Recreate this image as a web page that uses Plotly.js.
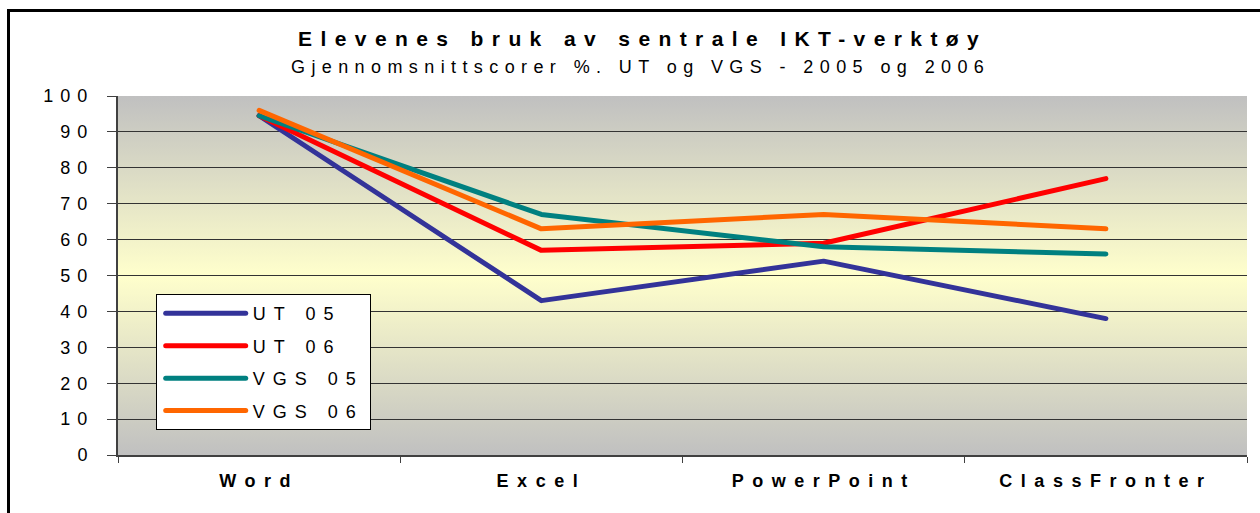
<!DOCTYPE html>
<html>
<head>
<meta charset="utf-8">
<script src="https://cdn.plot.ly/plotly-3.0.1.min.js"></script>
<style>
  body { margin: 0; background: #fff; }
  #chart { position: absolute; left: 0; top: 0; width: 1260px; height: 513px; }
  #frame { position: absolute; left: 7px; top: 9px; width: 1300px; height: 600px;
           border-left: 3px solid #000; border-top: 3px solid #000; pointer-events: none; z-index: 5; }
  .gtitle { letter-spacing: 8.4px; }
  .xtick text { letter-spacing: 8.5px; }
  .ytick text { letter-spacing: 7px; }
  .legendtext { letter-spacing: 8px; }
  .scatterlayer .js-line, .legend .js-line { stroke-linecap: round !important; stroke-linejoin: round !important; }
</style>
</head>
<body>
<div id="chart"></div>
<div id="frame"></div>
<script>
// ---- data ----
const categories = ['Word', 'Excel', 'PowerPoint', 'ClassFronter'];
const seriesNames = ['UT 05', 'UT 06', 'VGS 05', 'VGS 06'];
const ut05 = [94.5, 43, 54, 38];
const ut06 = [94.5, 57, 59, 77];
const vgs05 = [94.5, 67, 58, 56];
const vgs06 = [96, 63, 67, 63];
const seriesValues = [ut05, ut06, vgs05, vgs06];
const seriesColors = ['#333399', '#FF0000', '#008080', '#FF6600'];
const titleText = 'Elevenes bruk av sentrale IKT-verktøy';
const subtitleText = 'Gjennomsnittscorer %. UT og VGS - 2005 og 2006';

const FONT = 'Liberation Sans, Arial, sans-serif';

const traces = seriesNames.map((name, i) => ({
  type: 'scatter',
  mode: 'lines',
  name: name,
  legendgroup: name,
  x: categories,
  y: seriesValues[i],
  line: { color: seriesColors[i], width: 5 },
  hoverinfo: 'skip'
}));

const gradSvg = '<svg xmlns="http://www.w3.org/2000/svg" width="100" height="100" preserveAspectRatio="none">' +
  '<defs><linearGradient id="g" x1="0" y1="0" x2="0" y2="1">' +
  '<stop offset="0" stop-color="#c0c0c0"/>' +
  '<stop offset="0.5" stop-color="#ffffcc"/>' +
  '<stop offset="1" stop-color="#c0c0c0"/>' +
  '</linearGradient></defs><rect width="100" height="100" fill="url(#g)"/></svg>';

const layout = {
  width: 1260,
  height: 513,
  margin: { l: 118, r: 13, t: 96, b: 58 },
  paper_bgcolor: '#ffffff',
  plot_bgcolor: 'rgba(0,0,0,0)',
  font: { family: FONT, color: '#000' },
  title: {
    text: '<b>' + titleText + '</b>',
    font: { family: FONT, size: 21, color: '#000' },
    x: 0.51, xanchor: 'center', xref: 'container',
    y: 0.924, yanchor: 'middle', yref: 'container'
  },
  annotations: [{
    text: '<span style="letter-spacing:6.4px">' + subtitleText + '</span>',
    xref: 'paper', yref: 'paper',
    x: 0.4625, y: 1.0808, xanchor: 'center', yanchor: 'middle',
    showarrow: false,
    font: { family: FONT, size: 18, color: '#000' }
  }],
  images: [{
    source: 'data:image/svg+xml;charset=utf-8,' + encodeURIComponent(gradSvg),
    xref: 'paper', yref: 'paper', x: 0, y: 1, sizex: 1, sizey: 1,
    xanchor: 'left', yanchor: 'top', sizing: 'stretch', layer: 'below'
  }],
  xaxis: {
    type: 'category',
    range: [-0.5, 3.5],
    tickson: 'boundaries',
    ticks: 'outside', ticklen: 6, tickcolor: '#404040', tickwidth: 1,
    showline: true, linecolor: '#404040', linewidth: 2,
    showgrid: false, zeroline: false,
    tickfont: { family: FONT, size: 18, weight: 'bold', color: '#000' },
    ticklabelstandoff: 8,
    fixedrange: true
  },
  yaxis: {
    range: [0, 100],
    dtick: 10,
    ticks: 'outside', ticklen: 9, tickcolor: '#404040', tickwidth: 1,
    showline: true, linecolor: '#404040', linewidth: 2,
    showgrid: true, gridcolor: '#333333', gridwidth: 1,
    zeroline: false,
    tickfont: { family: FONT, size: 18, color: '#000' },
    ticklabelstandoff: 9,
    fixedrange: true
  },
  showlegend: true,
  legend: {
    x: 0.0334, y: 0.448, xanchor: 'left', yanchor: 'top',
    bgcolor: '#ffffff', bordercolor: '#000000', borderwidth: 1,
    font: { family: FONT, size: 18, color: '#000' },
    itemwidth: 86,
    traceorder: 'grouped',
    tracegroupgap: 6
  }
};

Plotly.newPlot('chart', traces, layout, { displayModeBar: false, staticPlot: true }).then(gd => {
  gd.querySelectorAll('.legend .js-line').forEach(p => p.setAttribute('d', 'M9,0h80'));
});
</script>
</body>
</html>
